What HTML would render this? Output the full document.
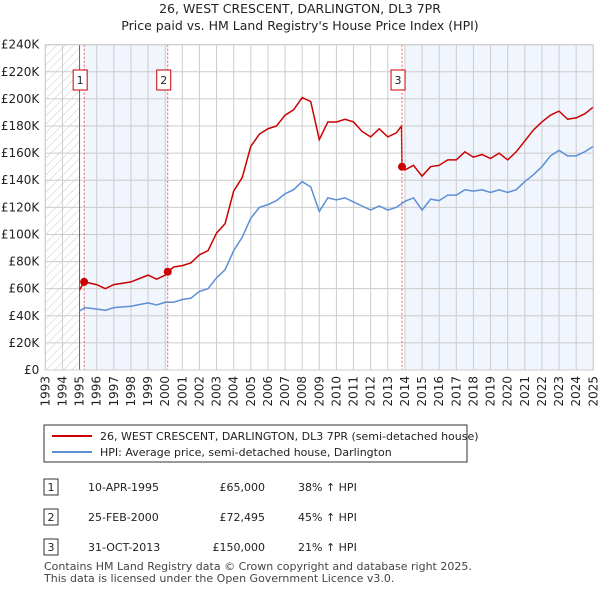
<!DOCTYPE html>
<html><head><meta charset="utf-8"><style>
body{margin:0;background:#fff;font-family:"Liberation Sans","DejaVu Sans",sans-serif;}
</style></head><body>
<svg id="c" width="600" height="590" xmlns="http://www.w3.org/2000/svg" font-family="DejaVu Sans, Liberation Sans, sans-serif">
<defs>
<pattern id="hatch" width="6" height="6" patternUnits="userSpaceOnUse" patternTransform="rotate(45)">
<line x1="0" y1="0" x2="0" y2="6" stroke="#ccc" stroke-width="1"/></pattern>
</defs>
<text x="300" y="13" text-anchor="middle" font-size="12.5" fill="#222">26, WEST CRESCENT, DARLINGTON, DL3 7PR</text>
<text x="300" y="30" text-anchor="middle" font-size="12.5" fill="#222">Price paid vs. HM Land Registry's House Price Index (HPI)</text>
<g id="plot"></g>
<g>
<rect x="44" y="425" width="423" height="37" fill="#fff" stroke="#333" stroke-width="1"/>
<line x1="52" y1="436" x2="92" y2="436" stroke="#cc0000" stroke-width="2"/>
<text x="100" y="440" font-size="11" fill="#222">26, WEST CRESCENT, DARLINGTON, DL3 7PR (semi-detached house)</text>
<line x1="52" y1="452" x2="92" y2="452" stroke="#5b8fd6" stroke-width="2"/>
<text x="100" y="456" font-size="11" fill="#222">HPI: Average price, semi-detached house, Darlington</text>
</g>
<g font-size="11" fill="#222">
<rect x="44" y="479" width="14" height="16" fill="#fff" stroke="#333"/><text x="51" y="491" text-anchor="middle">1</text>
<text x="88" y="491">10-APR-1995</text><text x="265" y="491" text-anchor="end">£65,000</text><text x="298" y="491">38% ↑ HPI</text>
<rect x="44" y="509" width="14" height="16" fill="#fff" stroke="#333"/><text x="51" y="521" text-anchor="middle">2</text>
<text x="88" y="521">25-FEB-2000</text><text x="265" y="521" text-anchor="end">£72,495</text><text x="298" y="521">45% ↑ HPI</text>
<rect x="44" y="539" width="14" height="16" fill="#fff" stroke="#333"/><text x="51" y="551" text-anchor="middle">3</text>
<text x="88" y="551">31-OCT-2013</text><text x="265" y="551" text-anchor="end">£150,000</text><text x="298" y="551">21% ↑ HPI</text>
</g>
<text x="44" y="570" font-size="11" fill="#444">Contains HM Land Registry data © Crown copyright and database right 2025.</text>
<text x="44" y="582" font-size="11" fill="#444">This data is licensed under the Open Government Licence v3.0.</text>
</svg>
<script>
const yTicks=[0,20000,40000,60000,80000,100000,120000,140000,160000,180000,200000,220000,240000];
const yTickLabels=["£0","£20K","£40K","£60K","£80K","£100K","£120K","£140K","£160K","£180K","£200K","£220K","£240K"];
const years=[1993,1994,1995,1996,1997,1998,1999,2000,2001,2002,2003,2004,2005,2006,2007,2008,2009,2010,2011,2012,2013,2014,2015,2016,2017,2018,2019,2020,2021,2022,2023,2024,2025];
const hpiDates=[1995.0,1995.3,1996,1996.5,1997,1998,1999,1999.5,2000,2000.5,2001,2001.5,2002,2002.5,2003,2003.5,2004,2004.5,2005,2005.5,2006,2006.5,2007,2007.5,2008,2008.5,2009,2009.5,2010,2010.5,2011,2011.5,2012,2012.5,2013,2013.5,2014,2014.5,2015,2015.5,2016,2016.5,2017,2017.5,2018,2018.5,2019,2019.5,2020,2020.5,2021,2021.5,2022,2022.5,2023,2023.5,2024,2024.5,2025];
const hpiValues=[43500,46000,45000,44000,46000,47000,49500,48000,50000,50000,52000,53000,58000,60000,68000,74000,88000,98000,112000,120000,122000,125000,130000,133000,139000,135000,117000,127000,125500,127000,124000,121000,118000,121000,118000,120000,124500,127000,118000,126000,125000,129000,129000,133000,132000,133000,131000,133000,131000,133000,139000,144000,150000,158000,162000,158000,158000,161000,165000];
const priceDates=[1995.0,1995.27,1996,1996.5,1997,1998,1999,1999.5,2000,2000.15,2000.5,2001,2001.5,2002,2002.5,2003,2003.5,2004,2004.5,2005,2005.5,2006,2006.5,2007,2007.5,2008,2008.5,2009,2009.5,2010,2010.5,2011,2011.5,2012,2012.5,2013,2013.5,2013.8,2013.83,2014,2014.5,2015,2015.5,2016,2016.5,2017,2017.5,2018,2018.5,2019,2019.5,2020,2020.5,2021,2021.5,2022,2022.5,2023,2023.5,2024,2024.5,2025];
const priceValues=[59000,65000,63000,60000,63000,65000,70000,67000,70000,72495,76000,77000,79000,85000,88000,101000,108000,132000,142000,165000,174000,178000,180000,188000,192000,201000,198000,170000,183000,183000,185000,183000,176000,172000,178000,172000,175000,180000,150000,147600,151000,143000,150000,151000,155000,155000,161000,157000,159000,156000,160000,155000,161000,169000,177000,183000,188000,191000,185000,186000,189000,194000];
const saleDates=[1995.27,2000.15,2013.83];
const salePrices=[65000,72495,150000];
const saleLabels=["1","2","3"];

const X0=45.3,X1=593.3,Y0=370,Y1=44.7,xMin=1993,xMax=2025,yMax=240000;
const xs=d=>X0+(d-xMin)/(xMax-xMin)*(X1-X0);
const ys=v=>Y0-v/yMax*(Y0-Y1);
const NS="http://www.w3.org/2000/svg";
const plot=document.getElementById('plot');
function mk(tag,attrs,parent){const e=document.createElementNS(NS,tag);for(const k in attrs)e.setAttribute(k,attrs[k]);(parent||plot).appendChild(e);return e;}

let e;
e=mk('rect',{x:xs(1993),y:Y1,width:xs(1995)-xs(1993),height:Y0-Y1,fill:'url(#hatch)'});


e=mk('rect',{x:xs(saleDates[0]),y:Y1,width:xs(saleDates[1])-xs(saleDates[0]),height:Y0-Y1,fill:'#eef3fc',opacity:0.8});


e=mk('rect',{x:xs(2014),y:Y1,width:xs(2025)-xs(2014),height:Y0-Y1,fill:'#eef3fc',opacity:0.8});



yTicks.forEach((t,i)=>{
 e=mk('line',{x1:X0,x2:X1,y1:ys(t),y2:ys(t),stroke:'#ccc','stroke-width':1});
 
 
 e=mk('text',{x:X0-6,y:ys(t)+4,'text-anchor':'end','font-size':12,fill:'#222'});
 e.textContent=yTickLabels[i];
 
 
});
years.forEach(y=>{
 e=mk('line',{x1:xs(y),x2:xs(y),y1:Y1,y2:Y0,stroke:'#ccc','stroke-width':1});
 
 
 e=mk('text',{x:0,y:0,'text-anchor':'end','font-size':12,fill:'#222',transform:`translate(${xs(y)+4},${Y0+6}) rotate(-90)`});
 e.textContent=y;
 
 
});
e=mk('line',{x1:xs(1995),x2:xs(1995),y1:Y1,y2:Y0,stroke:'#666','stroke-width':1});



e=mk('polyline',{points:hpiDates.map((d,i)=>xs(d)+','+ys(hpiValues[i])).join(' '),fill:'none',stroke:'#5b8fd6','stroke-width':1.5});


e=mk('polyline',{points:priceDates.map((d,i)=>xs(d)+','+ys(priceValues[i])).join(' '),fill:'none',stroke:'#cc0000','stroke-width':1.5});



saleDates.forEach((d,i)=>{
 e=mk('line',{x1:xs(d),x2:xs(d),y1:Y1,y2:Y0,stroke:'#e06060','stroke-width':1,'stroke-dasharray':'2,2'});
 
 
 e=mk('circle',{cx:xs(d),cy:ys(salePrices[i]),r:4,fill:'#cc0000'});
 
 
 e=mk('rect',{x:xs(d)-11,y:70,width:14,height:20,fill:'#fff',stroke:'#cc0000','stroke-width':1});
 
 
 e=mk('text',{x:xs(d)-4,y:84,'text-anchor':'middle','font-size':11,fill:'#222'});
 e.textContent=saleLabels[i];
 
 
});
e=mk('rect',{x:X0,y:Y1,width:X1-X0,height:Y0-Y1,fill:'none',stroke:'#ccc'});


</script>
</body></html>
